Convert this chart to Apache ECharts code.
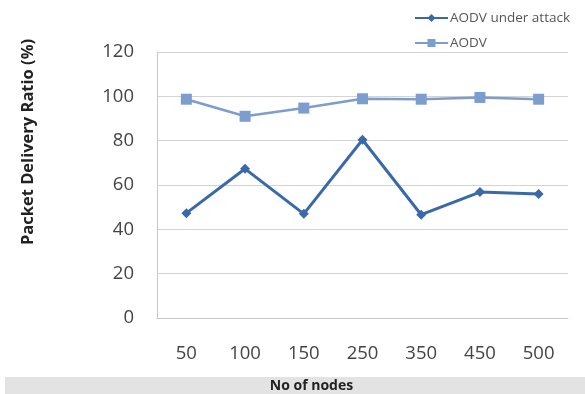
<!DOCTYPE html>
<html><head><meta charset="utf-8">
<script src="https://cdn.jsdelivr.net/npm/echarts@6/dist/echarts.min.js"></script>
<style>html,body{margin:0;padding:0;background:#fff}#c{width:585px;height:394px}</style>
</head><body><div id="c"></div>
<script>
const categories = ['50','100','150','250','350','450','500'];
const attackValues = [47.3, 67.3, 47, 80.4, 46.6, 56.8, 55.9];
const aodvValues = [98.7, 91, 94.7, 98.9, 98.7, 99.5, 98.7];
const seriesNames = ['AODV under attack', 'AODV'];
const yTicks = {min: 0, max: 120, interval: 20};

const font = '"Open Sans", Lato, sans-serif';
const chart = echarts.init(document.getElementById('c'), null, {renderer: 'canvas'});
chart.setOption({
  animation: false,
  backgroundColor: '#fff',
  graphic: [{type: 'rect', z: -1, shape: {x: 5, y: 377, width: 580, height: 17}, style: {fill: '#e3e3e3'}}],
  legend: {
    right: 10, top: 6, orient: 'vertical', itemGap: 11, itemWidth: 33, itemHeight: 10,
    textStyle: {fontFamily: font, fontSize: 13.5, color: '#555', padding: [0, 0, 0, -3]},
    data: seriesNames
  },
  grid: {left: 157, right: 17, top: 52, bottom: 76, containLabel: false, outerBoundsMode: 'none'},
  xAxis: {
    type: 'category', data: categories, boundaryGap: true,
    axisLine: {lineStyle: {color: '#c8c8c8', width: 1}},
    axisTick: {show: false},
    axisLabel: {margin: 26, fontSize: 18.5, color: '#444', fontFamily: font},
    name: 'No of nodes', nameLocation: 'middle', nameGap: 61,
    nameTextStyle: {fontFamily: font, fontSize: 14, fontWeight: 'bold', color: '#222', padding: [0, 102, 0, 0]}
  },
  yAxis: {
    type: 'value', min: yTicks.min, max: yTicks.max, interval: yTicks.interval,
    axisLine: {show: true, lineStyle: {color: '#c8c8c8', width: 1}},
    axisTick: {show: false},
    splitLine: {lineStyle: {color: '#d4d4d4', width: 1}},
    axisLabel: {margin: 23, fontSize: 18.5, color: '#444', fontFamily: font},
    name: 'Packet Delivery Ratio (%)', nameLocation: 'middle', nameGap: 120, nameRotate: 90,
    nameTextStyle: {fontFamily: font, fontSize: 16.5, fontWeight: 'bold', color: '#222', padding: [0, 0, 0, 86]}
  },
  series: [
    {name: seriesNames[0], type: 'line', data: attackValues, symbol: 'diamond', symbolSize: 10,
     lineStyle: {color: '#3a69aa', width: 3}, itemStyle: {color: '#3a69aa'}},
    {name: seriesNames[1], type: 'line', data: aodvValues, symbol: 'rect', symbolSize: 11,
     lineStyle: {color: '#7d9dcf', width: 2.5}, itemStyle: {color: '#7d9dcf'}}
  ]
});
</script></body></html>
